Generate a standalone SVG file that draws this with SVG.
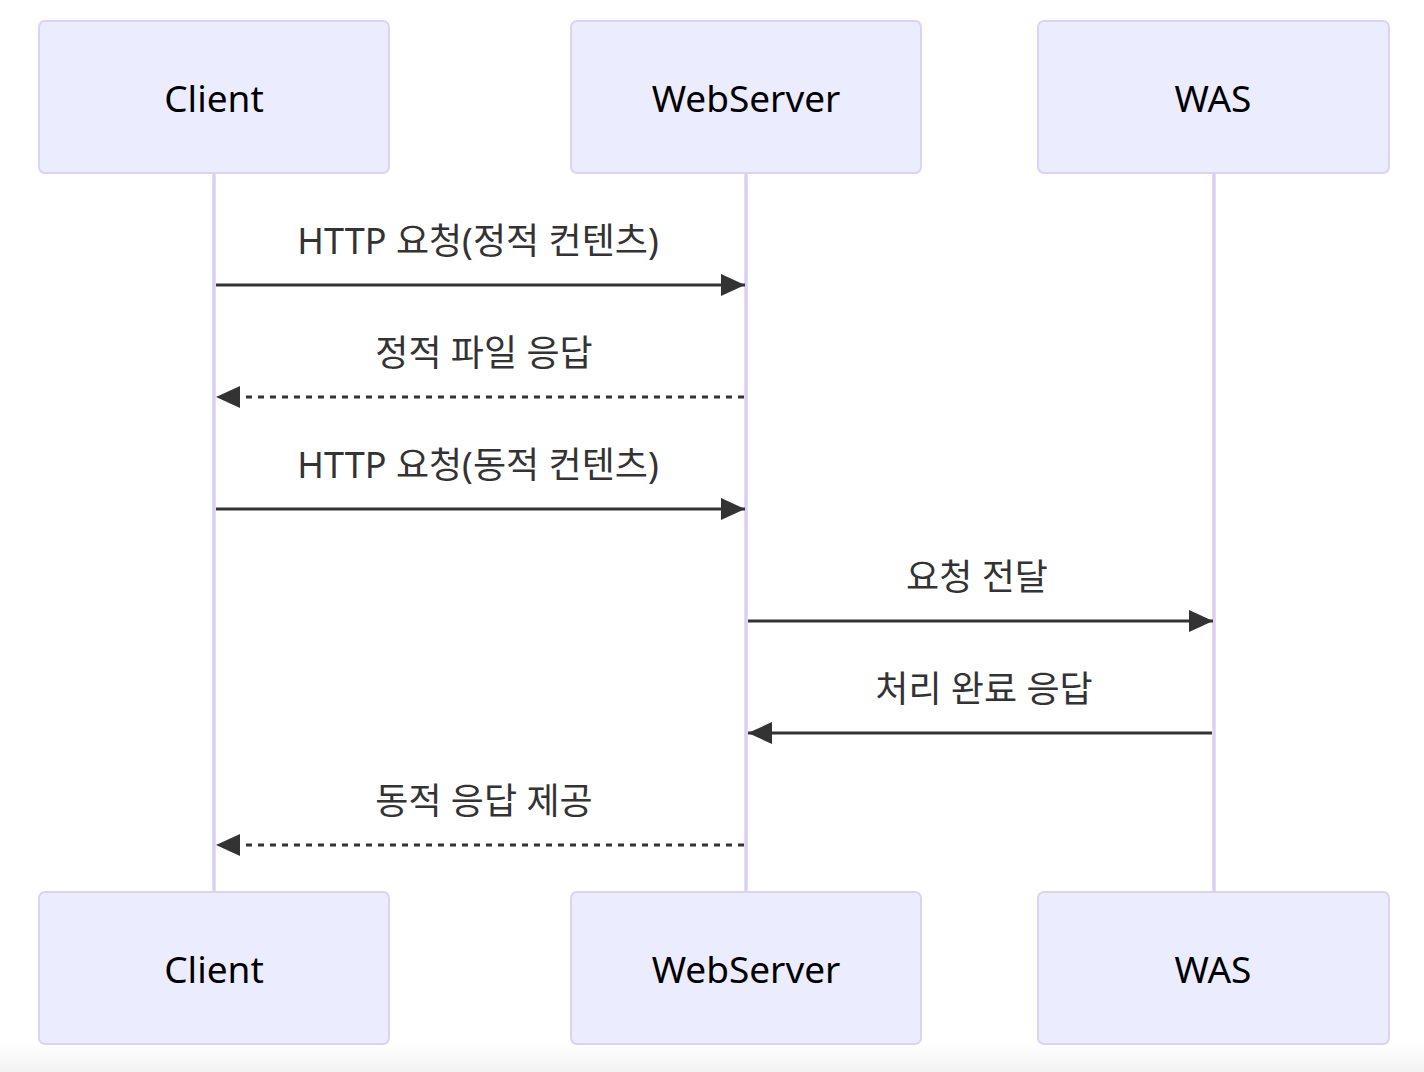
<svg xmlns="http://www.w3.org/2000/svg" width="1424" height="1072" viewBox="0 0 1424 1072">
<defs>
<style>
.actor{fill:#ECECFF;stroke:#DCD3F3;stroke-width:2}
.atext{font-family:"Noto Sans","Noto Sans CJK KR",sans-serif;font-size:37px;fill:#000;text-anchor:middle;dominant-baseline:central}
.life{stroke:#DBD0F3;stroke-width:3.5}
.msg{stroke:#333;stroke-width:3;fill:none}
.dash{stroke-dasharray:6 6}
.mtext{font-family:"Noto Sans","Noto Sans CJK KR",sans-serif;font-size:36px;fill:#333;text-anchor:middle;dominant-baseline:central}
</style>
<marker id="ah" viewBox="0 0 24 22" refX="24" refY="11" markerWidth="24" markerHeight="22" markerUnits="userSpaceOnUse" orient="auto">
<path d="M0,0 L24,11 L0,22 Z" fill="#333"/>
</marker>
<linearGradient id="sh" x1="0" y1="0" x2="0" y2="1">
<stop offset="0" stop-color="#fff"/>
<stop offset="1" stop-color="#f2f2f2"/>
</linearGradient>
</defs>
<rect width="1424" height="1072" fill="#fff"/>
<rect x="0" y="1044" width="1424" height="28" fill="url(#sh)"/>
<g id="lifelines">
<line class="life" x1="214" y1="173" x2="214" y2="892"/>
<line class="life" x1="746" y1="173" x2="746" y2="892"/>
<line class="life" x1="1214" y1="173" x2="1214" y2="892"/>
</g>
<g id="client-top"><rect class="actor" x="39" y="21" width="350" height="152" rx="6"/><text class="atext" x="214" y="97">Client</text></g>
<g id="webserver-top"><rect class="actor" x="571" y="21" width="350" height="152" rx="6"/><text class="atext" x="746" y="97">WebServer</text></g>
<g id="was-top"><rect class="actor" x="1038" y="21" width="351" height="152" rx="6"/><text class="atext" x="1213" y="97">WAS</text></g>
<g id="client-bottom"><rect class="actor" x="39" y="892" width="350" height="152" rx="6"/><text class="atext" x="214" y="968">Client</text></g>
<g id="webserver-bottom"><rect class="actor" x="571" y="892" width="350" height="152" rx="6"/><text class="atext" x="746" y="968">WebServer</text></g>
<g id="was-bottom"><rect class="actor" x="1038" y="892" width="351" height="152" rx="6"/><text class="atext" x="1213" y="968">WAS</text></g>
<g id="connectors">
<line class="msg" x1="216" y1="285" x2="745" y2="285" marker-end="url(#ah)"/>
<line class="msg dash" x1="744" y1="397" x2="216" y2="397" marker-end="url(#ah)"/>
<line class="msg" x1="216" y1="509" x2="745" y2="509" marker-end="url(#ah)"/>
<line class="msg" x1="748" y1="621" x2="1213" y2="621" marker-end="url(#ah)"/>
<line class="msg" x1="1212" y1="733" x2="748" y2="733" marker-end="url(#ah)"/>
<line class="msg dash" x1="744" y1="845" x2="216" y2="845" marker-end="url(#ah)"/>
</g>
<g id="labels">
<text class="mtext" x="478" y="240">HTTP 요청(정적 컨텐츠)</text>
<text class="mtext" x="484" y="352">정적 파일 응답</text>
<text class="mtext" x="478" y="464">HTTP 요청(동적 컨텐츠)</text>
<text class="mtext" x="977" y="576">요청 전달</text>
<text class="mtext" x="984" y="688">처리 완료 응답</text>
<text class="mtext" x="484" y="800">동적 응답 제공</text>
</g>
</svg>
